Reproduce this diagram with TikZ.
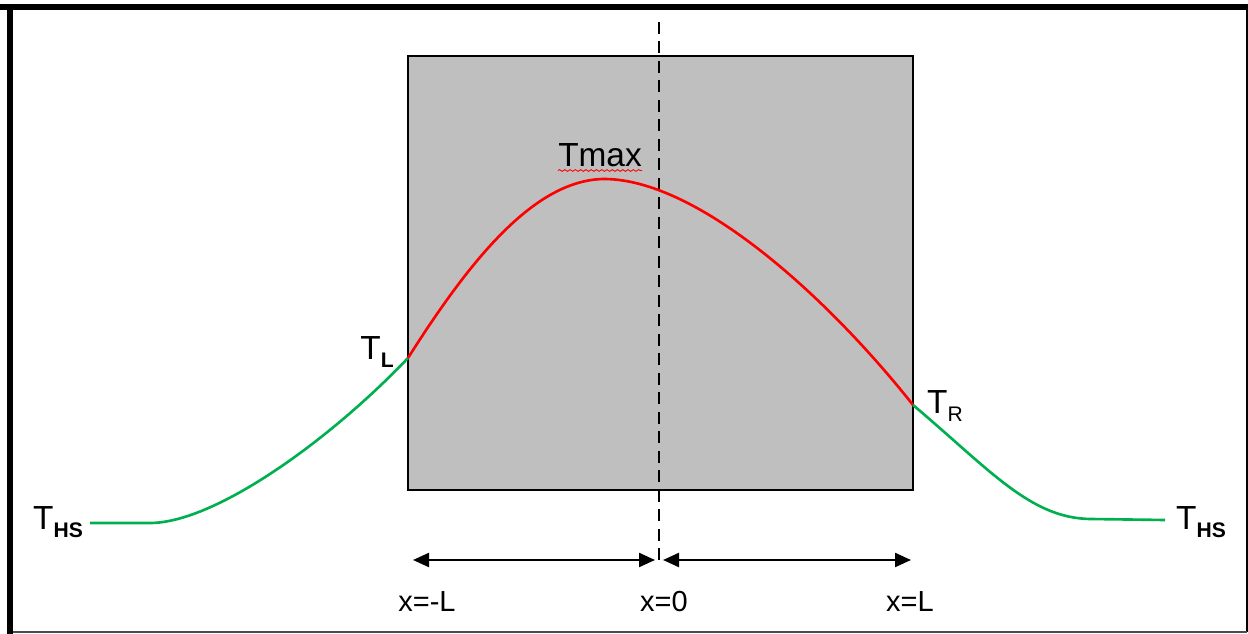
\documentclass[tikz,border=0pt]{standalone}
\usepackage{fontspec}
\setmainfont{Liberation Sans}
\usetikzlibrary{arrows.meta, positioning, decorations.pathmorphing}
\definecolor{slabGray}{HTML}{BFBFBF}
\definecolor{hsGreen}{HTML}{00B050}
\definecolor{coreRed}{HTML}{FF0000}
\newcommand{\lowtxt}[1]{\raisebox{-0.45ex}{\fontsize{12}{13}\selectfont #1}}

\begin{document}
\begin{tikzpicture}[
  x=0.02cm, y=-0.02cm,
  every node/.style={font=\fontsize{19}{21}\selectfont, inner sep=0pt},
  poslabel/.style={font=\fontsize{16.5}{19}\selectfont},
  frameline/.style={line width=0.12cm},
  slab/.style={draw=black, fill=slabGray, line width=1.3pt},
  hotcurve/.style={draw=coreRed, line width=1.5pt},
  sinkcurve/.style={draw=hsGreen, line width=1.5pt},
  axisline/.style={draw=black, line width=1.3pt, dash pattern=on 0.24cm off 0.15cm},
  span/.style={draw=black, line width=1.3pt,
               {Triangle[length=0.32cm, width=0.28cm]}-{Triangle[length=0.32cm, width=0.28cm]}},
]
\useasboundingbox (0,0) rectangle (1248,634);

% outer frame
\draw[frameline] (0,7) -- (1248,7);
\draw[frameline] (10,4) -- (10,634);
\draw[black, line width=1.2pt] (1247,10) -- (1247,632);
\draw[black!70, line width=1.2pt] (13,632) -- (1247,632);

% slab
\coordinate (slabNW) at (408,56);
\coordinate (slabSE) at (913,490);
\draw[slab] (slabNW) rectangle (slabSE);

% symmetry axis
\coordinate (axisTop) at (659,22);
\coordinate (axisBot) at (659,567);
\draw[axisline] (axisTop) -- (axisBot);

% temperature profile
\coordinate (hsLeft) at (90,523);
\coordinate (tl) at (408,358);
\coordinate (peak) at (605,179);
\coordinate (tr) at (913,405);
\coordinate (hsRight) at (1165,520);
\draw[sinkcurve] (hsLeft) -- (150,523)
  .. controls (215,523) and (330,440) .. (tl);
\draw[hotcurve] (tl) .. controls (470,260) and (535,179) .. (peak)
  .. controls (700,180) and (830,300) .. (tr);
\draw[sinkcurve] (tr) .. controls (990,470) and (1030,518) .. (1090,519) -- (hsRight);

% labels
\node (labTL) at (377,352) {T\lowtxt{\textbf{L}}};
\node (labTR) at (945,406) {T\lowtxt{R}};
\node (labHSl) at (58,522) {T\lowtxt{\textbf{HS}}};
\node (labHSr) at (1201,522) {T\lowtxt{\textbf{HS}}};
\node (labTmax) at (600,155) {Tmax};
\draw[coreRed, line width=0.5pt, decorate,
      decoration={snake, amplitude=0.5pt, segment length=3pt}]
  ([yshift=-2pt]labTmax.south west) -- ([yshift=-2pt]labTmax.south east);

% dimension arrows
\coordinate (arrL) at (413,560);
\coordinate (arrM1) at (655,560);
\coordinate (arrM2) at (663,560);
\coordinate (arrR) at (911,560);
\draw[span] (arrL) -- (arrM1);
\draw[span] (arrM2) -- (arrR);

\node[poslabel] (posL) at (427,602) {x=-L};
\node[poslabel] (pos0) at (664,602) {x=0};
\node[poslabel] (posR) at (910,602) {x=L};
\end{tikzpicture}
\end{document}
